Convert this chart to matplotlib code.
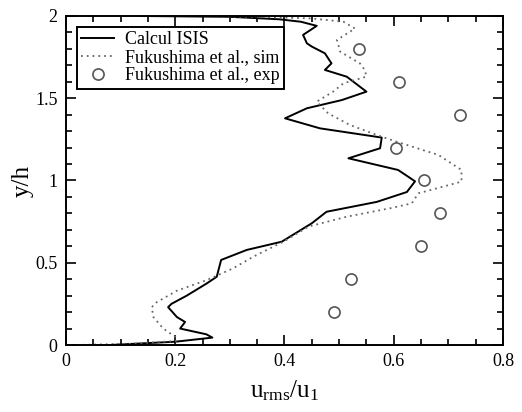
import matplotlib
matplotlib.use("Agg")
import matplotlib.pyplot as plt
from matplotlib.ticker import MultipleLocator

plt.rcParams['font.family'] = ['Liberation Serif', 'DejaVu Serif']
plt.rcParams['mathtext.fontset'] = 'custom'
plt.rcParams['mathtext.rm'] = 'Liberation Serif'

# Calcul ISIS (solid)
isis_x = [0.08, 0.2, 0.268, 0.257, 0.209, 0.218, 0.203, 0.187, 0.193, 0.221, 0.258, 0.276,
          0.284, 0.331, 0.395, 0.45, 0.477, 0.569, 0.624, 0.639, 0.608, 0.517, 0.575, 0.578,
          0.465, 0.401, 0.441, 0.505, 0.55, 0.514, 0.474, 0.486, 0.474, 0.45, 0.441, 0.434,
          0.459, 0.43, 0.39, 0.3, 0.135]
isis_y = [0.0, 0.02, 0.045, 0.065, 0.10, 0.14, 0.17, 0.23, 0.25, 0.30, 0.375, 0.415,
          0.517, 0.578, 0.628, 0.74, 0.81, 0.87, 0.93, 0.995, 1.064, 1.135, 1.196, 1.261,
          1.317, 1.378, 1.439, 1.489, 1.54, 1.631, 1.672, 1.712, 1.773, 1.814, 1.834, 1.885,
          1.94, 1.965, 1.98, 1.995, 2.0]

# Fukushima et al., sim (dotted)
sim_x = [0.02, 0.12, 0.203, 0.2, 0.178, 0.16, 0.157, 0.166, 0.203, 0.258, 0.306, 0.343,
         0.398, 0.444, 0.514, 0.593, 0.633, 0.645, 0.724, 0.724, 0.682, 0.605, 0.578, 0.52,
         0.48, 0.459, 0.489, 0.508, 0.55, 0.547, 0.538, 0.502, 0.496, 0.529, 0.508, 0.45,
         0.35, 0.2]
sim_y = [0.0, 0.008, 0.025, 0.05, 0.10, 0.17, 0.23, 0.26, 0.33, 0.395, 0.466, 0.537,
         0.628, 0.72, 0.78, 0.831, 0.861, 0.922, 0.993, 1.064, 1.155, 1.236, 1.266, 1.337,
         1.408, 1.479, 1.54, 1.591, 1.631, 1.672, 1.712, 1.783, 1.854, 1.924, 1.965, 1.985,
         1.995, 2.0]

# Fukushima et al., exp (circles)
exp_x = [0.49, 0.521, 0.65, 0.685, 0.656, 0.605, 0.721, 0.61, 0.537]
exp_y = [0.2, 0.4, 0.6, 0.8, 1.0, 1.2, 1.4, 1.6, 1.8]

fig = plt.figure(figsize=(5.22, 4.12), dpi=100)
ax = fig.add_axes([0.1264, 0.1626, 0.8372, 0.7986])

ax.plot(isis_x, isis_y, color='black', lw=1.4, label='Calcul ISIS')
ax.plot(sim_x, sim_y, color='#666666', lw=1.3, ls=(0, (1, 2.2)), label='Fukushima et al., sim')
ax.plot(exp_x, exp_y, ls='none', marker='o', ms=8, mfc='none', mec='#555555', mew=1.2,
        label='Fukushima et al., exp')

ax.set_xlim(0, 0.8)
ax.set_ylim(0, 2)
ax.xaxis.set_major_locator(MultipleLocator(0.2))
ax.xaxis.set_minor_locator(MultipleLocator(0.05))
ax.yaxis.set_major_locator(MultipleLocator(0.5))
ax.yaxis.set_minor_locator(MultipleLocator(0.1))
ax.set_xticks([0, 0.2, 0.4, 0.6, 0.8])
ax.set_xticklabels(['0', '0.2', '0.4', '0.6', '0.8'])
ax.set_yticks([0, 0.5, 1, 1.5, 2])
ax.set_yticklabels(['0', '0.5', '1', '1.5', '2'])
ax.tick_params(which='both', direction='in', top=True, right=True, width=1.2,
               labelsize=13)
ax.tick_params(which='major', length=7, pad=6)
ax.tick_params(which='minor', length=4)
for s in ax.spines.values():
    s.set_linewidth(1.4)

ax.set_xlabel(r'$\mathregular{u_{rms}/u_1}$', fontsize=18, labelpad=6)
ax.set_ylabel('y/h', fontsize=18, labelpad=1)

leg = ax.legend(loc='upper left', fontsize=13, frameon=True, fancybox=False,
                borderaxespad=0.6, handlelength=1.8, labelspacing=0.05,
                borderpad=0.25, handletextpad=0.6)
leg.get_frame().set_edgecolor('black')
leg.get_frame().set_linewidth(1.4)
leg.get_frame().set_alpha(1)

fig.savefig('out.png', dpi=100)
